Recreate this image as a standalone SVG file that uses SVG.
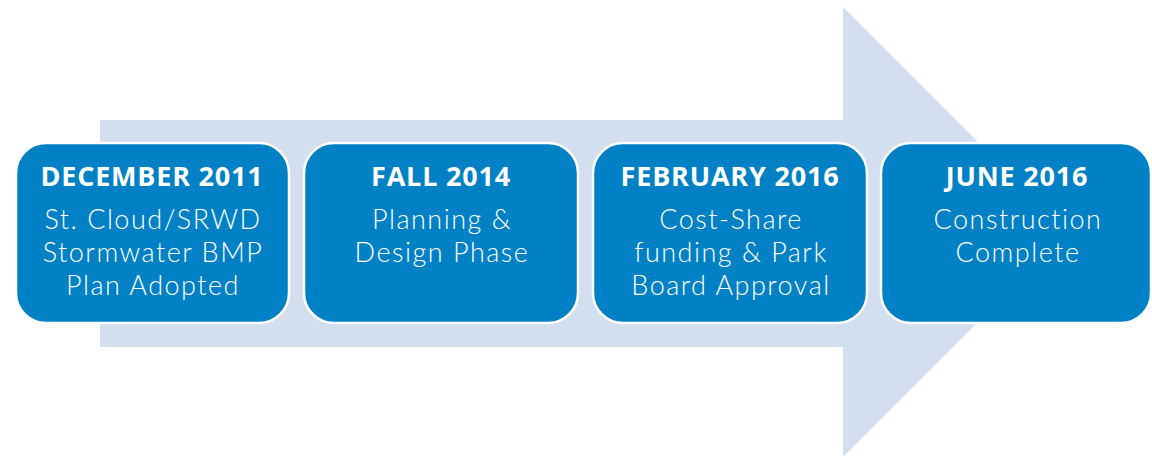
<svg xmlns="http://www.w3.org/2000/svg" width="1152" height="456" viewBox="0 0 1152 456">
<style>
.box{fill:#0081C6;stroke:#FFFFFF;stroke-width:2.5}
.t{font-family:"Open Sans","Liberation Sans",sans-serif;font-weight:700;font-size:27px;letter-spacing:0.8px;fill:#FFFFFF;text-anchor:middle}
.b{font-family:"Lato","Liberation Sans",sans-serif;font-weight:300;font-size:27px;letter-spacing:1.5px;fill:#FFFFFF;text-anchor:middle}
</style>
<rect width="1152" height="456" fill="#FFFFFF"/>
<g id="arrow">
<polygon points="100,120 843,120 843,7 1068,232 843,457 843,347 100,347" fill="#D3DEEF"/>
</g>
<g id="connectors"></g>
<g id="node1">
<rect class="box" x="16" y="143" width="273" height="180" rx="30"/>
<text class="t" x="152" y="186">DECEMBER 2011</text>
<text class="b" x="153" y="229">St. Cloud/SRWD</text>
<text class="b" x="153" y="262">Stormwater BMP</text>
<text class="b" x="153" y="295">Plan Adopted</text>
</g>
<g id="node2">
<rect class="box" x="304" y="143" width="274" height="180" rx="30"/>
<text class="t" x="441" y="186">FALL 2014</text>
<text class="b" x="442" y="229">Planning &amp;</text>
<text class="b" x="442" y="262">Design Phase</text>
</g>
<g id="node3">
<rect class="box" x="593" y="143" width="274" height="180" rx="30"/>
<text class="t" x="730" y="186">FEBRUARY 2016</text>
<text class="b" x="731" y="229">Cost-Share</text>
<text class="b" x="731" y="262">funding &amp; Park</text>
<text class="b" x="731" y="295">Board Approval</text>
</g>
<g id="node4">
<rect class="box" x="881" y="143" width="270" height="180" rx="30"/>
<text class="t" x="1017" y="186">JUNE 2016</text>
<text class="b" x="1018" y="229">Construction</text>
<text class="b" x="1018" y="262">Complete</text>
</g>
</svg>
